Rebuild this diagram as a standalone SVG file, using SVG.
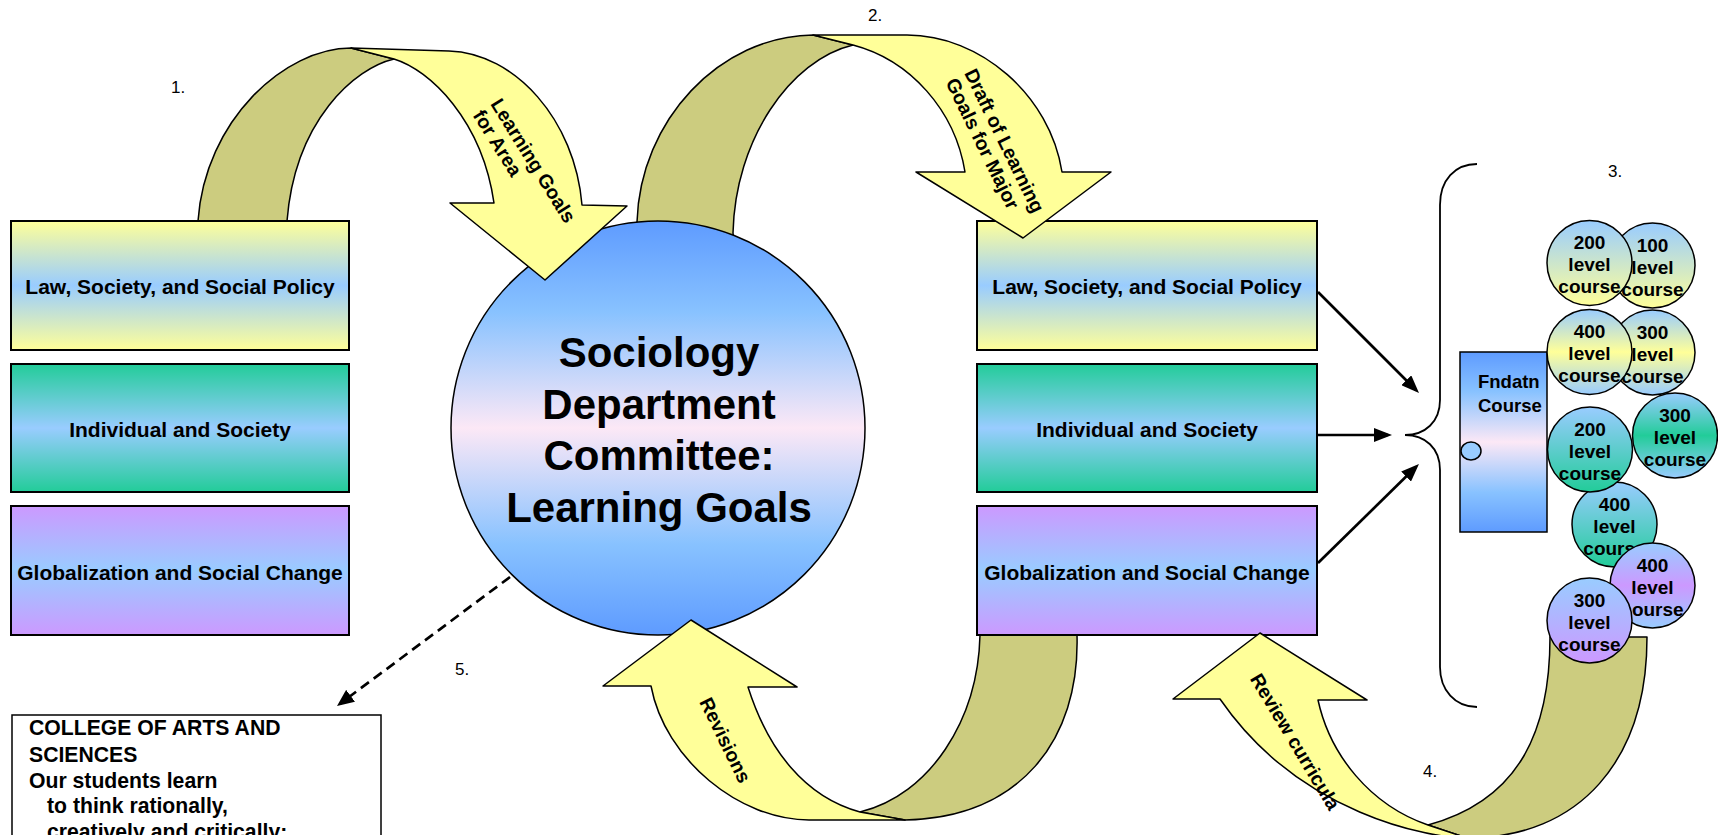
<svg xmlns="http://www.w3.org/2000/svg" width="1718" height="835" viewBox="0 0 1718 835">
<defs>
<linearGradient id="gYB" x1="0" y1="0" x2="0" y2="1"><stop offset="0" stop-color="#FFFF99"/><stop offset="0.5" stop-color="#99CCFF"/><stop offset="1" stop-color="#FFFF99"/></linearGradient>
<linearGradient id="gGB" x1="0" y1="0" x2="0" y2="1"><stop offset="0" stop-color="#22CC99"/><stop offset="0.5" stop-color="#99CCFF"/><stop offset="1" stop-color="#22CC99"/></linearGradient>
<linearGradient id="gPB" x1="0" y1="0" x2="0" y2="1"><stop offset="0" stop-color="#CC99FF"/><stop offset="0.5" stop-color="#99CCFF"/><stop offset="1" stop-color="#CC99FF"/></linearGradient>
<linearGradient id="gBig" x1="0" y1="0" x2="0" y2="1"><stop offset="0" stop-color="#5E9BFF"/><stop offset="0.22" stop-color="#88C2FF"/><stop offset="0.5" stop-color="#FCE8F6"/><stop offset="0.78" stop-color="#88C2FF"/><stop offset="1" stop-color="#5E9BFF"/></linearGradient>
<linearGradient id="cBY" x1="0" y1="0" x2="0" y2="1"><stop offset="0" stop-color="#99CCFF"/><stop offset="1" stop-color="#FFFF99"/></linearGradient>
<linearGradient id="cBYB" x1="0" y1="0" x2="0" y2="1"><stop offset="0" stop-color="#99CCFF"/><stop offset="0.5" stop-color="#FFFF99"/><stop offset="1" stop-color="#99CCFF"/></linearGradient>
<linearGradient id="cBG" x1="0" y1="0" x2="0" y2="1"><stop offset="0" stop-color="#99CCFF"/><stop offset="1" stop-color="#22CC99"/></linearGradient>
<linearGradient id="cBGB" x1="0" y1="0" x2="0" y2="1"><stop offset="0" stop-color="#99CCFF"/><stop offset="0.5" stop-color="#22CC99"/><stop offset="1" stop-color="#99CCFF"/></linearGradient>
<linearGradient id="cBP" x1="0" y1="0" x2="0" y2="1"><stop offset="0" stop-color="#99CCFF"/><stop offset="1" stop-color="#CC99FF"/></linearGradient>
<linearGradient id="cBPB" x1="0" y1="0" x2="0" y2="1"><stop offset="0" stop-color="#99CCFF"/><stop offset="0.5" stop-color="#CC99FF"/><stop offset="1" stop-color="#99CCFF"/></linearGradient>
<marker id="ah" markerUnits="userSpaceOnUse" markerWidth="18" markerHeight="14" refX="14" refY="7" orient="auto"><path d="M0,0 L18,7 L0,14 Z" fill="#000"/></marker>
<marker id="ahd" markerUnits="userSpaceOnUse" markerWidth="17" markerHeight="15" refX="13" refY="7.5" orient="auto"><path d="M0,0 L17,7.5 L0,15 Z" fill="#000"/></marker>
<style>
text{font-family:"Liberation Sans",Arial,sans-serif;fill:#000}
.b{font-weight:bold}
.box{stroke:#000;stroke-width:2}
.lbl{font-size:21px;font-weight:bold;text-anchor:middle}
.olive{fill:#CCCC7F;stroke:#000;stroke-width:1.5;stroke-linejoin:round}
.yel{fill:#FFFF99;stroke:#000;stroke-width:1.5;stroke-linejoin:round}
.atxt{font-size:19.5px;font-weight:bold}
.num{font-size:17px}
.cc{stroke:#000;stroke-width:1.5}
.ct{font-size:19px;font-weight:bold;text-anchor:middle}
.conn{stroke:#000;stroke-width:2.7;fill:none}
</style>
</defs>
<rect width="1718" height="835" fill="#fff"/>

<g id="arrow-backs">
<path class="olive" d="M198,235 L198,221 C205,120 285,48 351,48 L394,59 C355,68 295,120 287,221 L287,235 Z"/>
<path class="olive" d="M637,250 L637,222 C640,120 720,36 813,35 L853,45 C790,60 735,140 733,233 L735,250 Z"/>
<path class="olive" d="M980,620 L1077,620 L1077,635 C1080,740 1020,818 905,820 L860,812 C930,795 978,720 980,635 Z"/>
<path class="olive" d="M1550,637 L1647,637 C1647,760 1580,838 1467,838 L1428,825 C1520,800 1550,730 1550,637 Z"/>
</g>

<g id="left-law"><rect class="box" x="11" y="221" width="338" height="129" fill="url(#gYB)"/><text class="lbl" x="180" y="294">Law, Society, and Social Policy</text></g>
<g id="left-individual"><rect class="box" x="11" y="364" width="338" height="128" fill="url(#gGB)"/><text class="lbl" x="180" y="437">Individual and Society</text></g>
<g id="left-global"><rect class="box" x="11" y="506" width="338" height="129" fill="url(#gPB)"/><text class="lbl" x="180" y="580">Globalization and Social Change</text></g>

<g id="right-law"><rect class="box" x="977" y="221" width="340" height="129" fill="url(#gYB)"/><text class="lbl" x="1147" y="294">Law, Society, and Social Policy</text></g>
<g id="right-individual"><rect class="box" x="977" y="364" width="340" height="128" fill="url(#gGB)"/><text class="lbl" x="1147" y="437">Individual and Society</text></g>
<g id="right-global"><rect class="box" x="977" y="506" width="340" height="129" fill="url(#gPB)"/><text class="lbl" x="1147" y="580">Globalization and Social Change</text></g>

<g id="committee">
<circle cx="658" cy="428" r="207" fill="url(#gBig)" stroke="#000" stroke-width="1.5"/>
<text class="b" font-size="42" text-anchor="middle"><tspan x="659" y="367">Sociology</tspan><tspan x="659" y="418.5">Department</tspan><tspan x="659" y="470">Committee:</tspan><tspan x="659" y="521.5">Learning Goals</tspan></text>
</g>

<g id="college">
<rect x="12" y="715" width="369" height="200" fill="#fff" stroke="#000" stroke-width="1.5"/>
<text class="b" font-size="21.2"><tspan x="29" y="735">COLLEGE OF ARTS AND</tspan><tspan x="29" y="762">SCIENCES</tspan><tspan x="29" y="788">Our students learn</tspan><tspan x="47" y="813">to think rationally,</tspan><tspan x="47" y="839">creatively and critically:</tspan></text>
</g>

<g id="fndatn">
<rect x="1460" y="352" width="87" height="180" fill="url(#gBig)" stroke="#000" stroke-width="1.5"/>
<ellipse cx="1471" cy="451" rx="10" ry="9" fill="#99CCFF" stroke="#000" stroke-width="1.5"/>
<text class="b" font-size="18.5"><tspan x="1478" y="388">Fndatn</tspan><tspan x="1478" y="412">Course</tspan></text>
</g>

<g id="arrow-fronts">
<g id="arrow1"><path class="yel" d="M351,48 L449,51 C515,53 575,120 582,205 L627,206 L545,280 L450,203 L494,203 C482,120 430,70 394,59 Z"/>
<text class="atxt" transform="translate(490,104) rotate(58)"><tspan x="0" y="0">Learning Goals</tspan><tspan x="0" y="21">for Area</tspan></text></g>
<g id="arrow2"><path class="yel" d="M813,35 L907,35 C980,35 1050,95 1062,172 L1111,172 L1023,238 L916,172 L965,172 C955,110 910,60 853,45 Z"/>
<text class="atxt" transform="translate(964,73) rotate(64)"><tspan x="0" y="0">Draft of Learning</tspan><tspan x="0" y="21">Goals for Major</tspan></text></g>
<g id="arrow3"><path class="yel" d="M905,820 L809,820 C740,820 665,760 651,686 L603,686 L691,620 L797,687 L748,687 C768,750 805,797 860,812 Z"/>
<text class="atxt" text-anchor="middle" transform="translate(725.5,740) rotate(64)" x="0" y="7">Revisions</text></g>
<g id="arrow4"><path class="yel" d="M1467,838 C1430,838 1300,815 1220,699 L1173,699 L1260,633 L1367,700 L1318,700 C1330,755 1370,805 1428,825 Z"/>
<text class="atxt" text-anchor="middle" transform="translate(1295.5,741.5) rotate(59)" x="0" y="7">Review curricula</text></g>
</g>

<g id="courses">
<g id="c100"><circle class="cc" cx="1652.5" cy="265.5" r="42.5" fill="url(#cBY)"/><text class="ct"><tspan x="1652.5" y="251.5">100</tspan><tspan x="1652.5" y="273.5">level</tspan><tspan x="1652.5" y="295.5">course</tspan></text></g>
<g id="c200a"><circle class="cc" cx="1589.5" cy="263" r="42.5" fill="url(#cBY)"/><text class="ct"><tspan x="1589.5" y="249">200</tspan><tspan x="1589.5" y="271">level</tspan><tspan x="1589.5" y="293">course</tspan></text></g>
<g id="c300a"><circle class="cc" cx="1652.5" cy="352.5" r="42.5" fill="url(#cBYB)"/><text class="ct"><tspan x="1652.5" y="338.5">300</tspan><tspan x="1652.5" y="360.5">level</tspan><tspan x="1652.5" y="382.5">course</tspan></text></g>
<g id="c400a"><circle class="cc" cx="1589.5" cy="352" r="42.5" fill="url(#cBYB)"/><text class="ct"><tspan x="1589.5" y="338">400</tspan><tspan x="1589.5" y="360">level</tspan><tspan x="1589.5" y="382">course</tspan></text></g>
<g id="c400b"><circle class="cc" cx="1614.5" cy="524.5" r="42.5" fill="url(#cBG)"/><text class="ct"><tspan x="1614.5" y="510.5">400</tspan><tspan x="1614.5" y="532.5">level</tspan><tspan x="1614.5" y="554.5">course</tspan></text></g>
<g id="c200b"><circle class="cc" cx="1590" cy="449.5" r="42.5" fill="url(#cBG)"/><text class="ct"><tspan x="1590" y="435.5">200</tspan><tspan x="1590" y="457.5">level</tspan><tspan x="1590" y="479.5">course</tspan></text></g>
<g id="c300b"><circle class="cc" cx="1675" cy="435.5" r="42.5" fill="url(#cBGB)"/><text class="ct"><tspan x="1675" y="421.5">300</tspan><tspan x="1675" y="443.5">level</tspan><tspan x="1675" y="465.5">course</tspan></text></g>
<g id="c400c"><circle class="cc" cx="1652.5" cy="585.5" r="42.5" fill="url(#cBPB)"/><text class="ct"><tspan x="1652.5" y="571.5">400</tspan><tspan x="1652.5" y="593.5">level</tspan><tspan x="1652.5" y="615.5">course</tspan></text></g>
<g id="c300c"><circle class="cc" cx="1589.5" cy="620.5" r="42.5" fill="url(#cBP)"/><text class="ct"><tspan x="1589.5" y="606.5">300</tspan><tspan x="1589.5" y="628.5">level</tspan><tspan x="1589.5" y="650.5">course</tspan></text></g>
</g>

<g id="connectors">
<line class="conn" x1="1318" y1="292" x2="1416.2" y2="390.2" marker-end="url(#ah)"/>
<line class="conn" x1="1318" y1="435" x2="1388" y2="435" marker-end="url(#ah)"/>
<line class="conn" x1="1318" y1="563" x2="1416.1" y2="466.8" marker-end="url(#ah)"/>
<line class="conn" x1="510" y1="577" x2="340.2" y2="703.6" stroke-width="3" stroke-dasharray="10 6" marker-end="url(#ahd)"/>
<path d="M1477,164 C1455,164 1440,180 1440,205 L1440,400 C1440,422 1425,435 1405,435 C1425,435 1440,448 1440,470 L1440,667 C1440,690 1455,707 1477,707" fill="none" stroke="#000" stroke-width="1.8"/>
</g>

<g id="numbers">
<text class="num" x="171" y="93">1.</text>
<text class="num" x="868" y="21">2.</text>
<text class="num" x="1608" y="177">3.</text>
<text class="num" x="1423" y="777">4.</text>
<text class="num" x="455" y="675">5.</text>
</g>
</svg>
